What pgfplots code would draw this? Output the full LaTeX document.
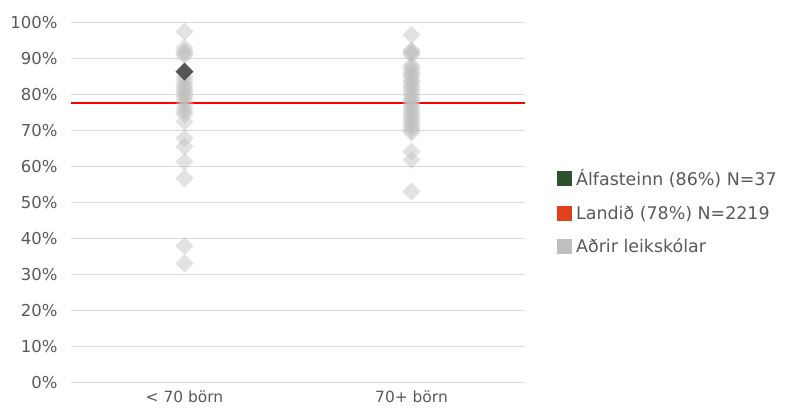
\documentclass[border=0pt]{standalone}
\usepackage{fontspec}
\setmainfont{DejaVu Sans}
\usepackage{pgfplots}
\pgfplotsset{compat=1.18}
\definecolor{gridc}{HTML}{D9D9D9}
\definecolor{txt}{HTML}{595959}
\definecolor{ptgray}{HTML}{BFBFBF}
\definecolor{darkpt}{HTML}{555555}
\definecolor{leggreen}{HTML}{2E5230}
\definecolor{legred}{HTML}{E0401C}
\definecolor{leggray}{HTML}{BFBFBF}
\definecolor{redline}{HTML}{FF0000}
\begin{document}
\begin{tikzpicture}[x=1bp,y=1bp]
\useasboundingbox (-71,-28.3) rectangle (717,382.7);
\begin{axis}[
  at={(0,0)}, anchor=south west,
  scale only axis, width=454bp, height=360bp,
  xmin=-0.5, xmax=1.5, ymin=0, ymax=100,
  clip=false,
  axis line style={draw=none},
  tick style={draw=none},
  ymajorgrids, grid style={gridc, line width=1.3bp},
  ytick={0,10,...,100},
  yticklabels={0\%,10\%,20\%,30\%,40\%,50\%,60\%,70\%,80\%,90\%,100\%},
  xtick={0,1},
  xticklabels={< 70 börn,70+ börn},
  yticklabel style={font=\fontsize{16.5}{20}\selectfont, text=txt, xshift=-10bp},
  xticklabel style={font=\fontsize{15.5}{19}\selectfont, text=txt, yshift=-5bp},
  legend style={at={(1.0705,0.474)}, anchor=west, draw=none, fill=none,
    inner xsep=0pt, inner ysep=0pt,
    font=\fontsize{17.5}{20}\selectfont, text=txt, row sep=14.5bp,
    legend cell align=left,
    nodes={inner xsep=4bp}},
  legend image code/.code={\fill[#1, draw=none] (0bp,-7.5bp) rectangle (15bp,7.5bp);},
]
\addlegendimage{fill=leggreen}
\addlegendentry{Álfasteinn (86\%) N=37}
\addlegendimage{fill=legred}
\addlegendentry{Landið (78\%) N=2219}
\addlegendimage{fill=leggray}
\addlegendentry{Aðrir leikskólar}
\addplot[forget plot, redline, line width=2bp] coordinates {(-0.5,77.8) (1.5,77.8)};
\addplot[forget plot, only marks, mark=square*, mark size=6.4bp,
  mark options={rotate=45, draw opacity=0, fill=ptgray, fill opacity=0.45}]
  coordinates {
  (0,97.5) (0,93) (0,92) (0,91.5) (0,90.8) (0,85) (0,84) (0,83) (0,82.2)
  (0,81.5) (0,80.8) (0,80) (0,79.4) (0,78.5) (0,77.5) (0,76.2) (0,75.3)
  (0,74.5) (0,72.5) (0,67.9) (0,65.6) (0,61.4) (0,56.8) (0,38) (0,33.1)
  (1,96.6) (1,92.4) (1,92) (1,91.5) (1,91) (1,88.2) (1,87.5) (1,86.9)
  (1,86) (1,85.5) (1,85) (1,84) (1,83.6) (1,82.7) (1,82) (1,81.3) (1,80.5)
  (1,79.9) (1,79) (1,78.5) (1,77.8) (1,77.1) (1,76.4) (1,75.7) (1,75)
  (1,74.4) (1,73.7) (1,73) (1,72.3) (1,71.6) (1,70.9) (1,70.2) (1,69.5)
  (1,64.2) (1,61.9) (1,53.1)
};
\addplot[forget plot, only marks, mark=square*, mark size=6.4bp,
  mark options={rotate=45, draw opacity=0, fill=darkpt}]
  coordinates {(0,86.4)};
\end{axis}
\end{tikzpicture}
\end{document}
